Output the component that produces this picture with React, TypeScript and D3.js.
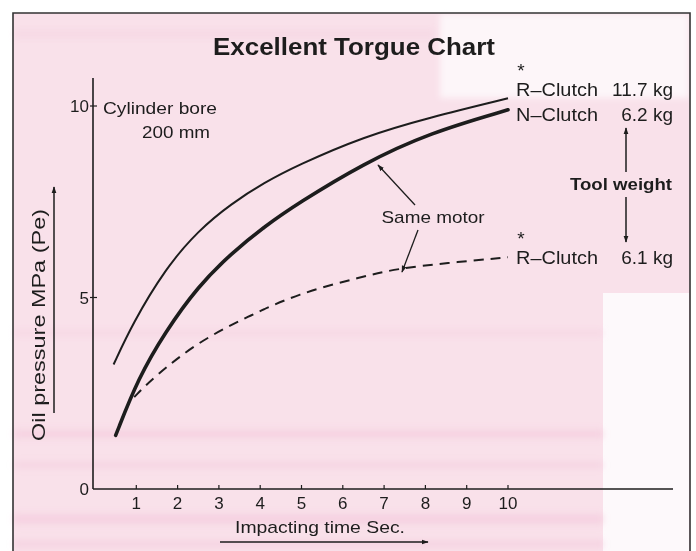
import React from 'react';
import * as d3 from 'd3';

// x = impacting time (sec), y = oil pressure (MPa)
const rClutch117 = [
  [0.45, 3.25], [0.9, 4.3], [1.7, 5.75], [2.5, 6.75], [3.3, 7.45],
  [4.1, 8.0], [4.9, 8.45], [6.5, 9.2], [8.1, 9.7], [10, 10.2],
];
const nClutch62 = [
  [0.5, 1.4], [1.05, 2.9], [1.7, 4.1], [2.5, 5.3], [3.3, 6.15],
  [4.1, 6.85], [4.9, 7.45], [6.5, 8.5], [8.1, 9.3], [10, 9.9],
];
const rClutch61 = [
  [0.95, 2.4], [1.4, 2.9], [2.5, 3.85], [3.7, 4.5], [4.9, 5.1],
  [6.5, 5.55], [7.3, 5.75], [8.5, 5.9], [10, 6.05],
];
const xTicks = [1, 2, 3, 4, 5, 6, 7, 8, 9, 10];
const yTicks = [0, 5, 10];

const FONT = "'Liberation Sans', Arial, sans-serif";
const INK = '#1d1d1d';

export default function App() {
  const width = 696;
  const height = 551;

  const x = d3.scaleLinear().domain([0, 10]).range([95, 508]);
  const y = d3.scaleLinear().domain([0, 10]).range([489, 106]);

  const line = d3.line<number[]>()
    .x(d => x(d[0]))
    .y(d => y(d[1]))
    .curve(d3.curveBasis);

  return (
    <svg width={width} height={height} style={{ position: 'absolute', left: 0, top: 0 }}
      fontFamily={FONT}>
      <defs>
        <marker id="arr" viewBox="0 0 10 10" refX="9" refY="5" markerWidth="7" markerHeight="8"
          orient="auto-start-reverse" markerUnits="userSpaceOnUse">
          <path d="M0,1.5 L10,5 L0,8.5 z" fill={INK} />
        </marker>
        <filter id="soft" x="-5%" y="-200%" width="110%" height="500%">
          <feGaussianBlur stdDeviation="3" />
        </filter>
      </defs>

      {/* paper background */}
      <rect x={0} y={0} width={width} height={height} fill="#ffffff" />
      <rect x={13} y={13} width={677} height={540} fill="#f9e1ea" />
      <rect x={440} y={14} width={249} height={84} fill="#fdf6f9" filter="url(#soft)" />
      <rect x={603} y={293} width={86} height={260} fill="#fdf9fb" />
      <g filter="url(#soft)" fill="#f3c8dc">
        <rect x={14} y={430} width={589} height={8} opacity={0.6} />
        <rect x={14} y={462} width={589} height={6} opacity={0.5} />
        <rect x={14} y={514} width={589} height={10} opacity={0.6} />
        <rect x={14} y={540} width={589} height={8} opacity={0.5} />
        <rect x={14} y={330} width={589} height={6} opacity={0.35} />
        <rect x={14} y={30} width={420} height={8} opacity={0.3} />
      </g>

      {/* frame */}
      <path d="M13,560 L13,13 L690,13 L690,560" fill="none" stroke="#333" strokeWidth={1.6} />

      {/* title */}
      <text x={354} y={55} textAnchor="middle" fontSize={24} fontWeight="bold" fill={INK}
        textLength={282} lengthAdjust="spacingAndGlyphs">Excellent Torgue Chart</text>

      {/* axes */}
      <line x1={93} y1={78} x2={93} y2={489} stroke={INK} strokeWidth={1.6} />
      <line x1={93} y1={489} x2={673} y2={489} stroke={INK} strokeWidth={1.4} />
      {yTicks.filter(t => t > 0).map(t => (
        <line key={t} x1={90} x2={97} y1={y(t)} y2={y(t)} stroke={INK} strokeWidth={1.2} />
      ))}
      {yTicks.map(t => (
        <text key={t} x={89} y={y(t) + 6} textAnchor="end" fontSize={17} fill={INK}>{t}</text>
      ))}
      {xTicks.map(t => (
        <g key={t}>
          <line x1={x(t)} x2={x(t)} y1={485} y2={489} stroke={INK} strokeWidth={1.2} />
          <text x={x(t)} y={509} textAnchor="middle" fontSize={17} fill={INK}>{t}</text>
        </g>
      ))}

      {/* axis titles */}
      <text x={320} y={533} textAnchor="middle" fontSize={17} fill={INK}
        textLength={170} lengthAdjust="spacingAndGlyphs">Impacting time Sec.</text>
      <line x1={220} y1={542} x2={428} y2={542} stroke={INK} strokeWidth={1.3} markerEnd="url(#arr)" />
      <text transform="translate(45,325) rotate(-90)" textAnchor="middle" fontSize={18} fill={INK}
        textLength={232} lengthAdjust="spacingAndGlyphs">Oil pressure MPa (Pe)</text>
      <line x1={54} y1={413} x2={54} y2={187} stroke={INK} strokeWidth={1.5} markerEnd="url(#arr)" />

      {/* cylinder note */}
      <text x={103} y={114} fontSize={17} fill={INK}
        textLength={114} lengthAdjust="spacingAndGlyphs">Cylinder bore</text>
      <text x={142} y={138} fontSize={17} fill={INK}
        textLength={68} lengthAdjust="spacingAndGlyphs">200 mm</text>

      {/* curves */}
      <path d={line(rClutch117) || ''} fill="none" stroke={INK} strokeWidth={2} />
      <path d={line(nClutch62) || ''} fill="none" stroke={INK} strokeWidth={3.6} strokeLinecap="round" />
      <path d={line(rClutch61) || ''} fill="none" stroke={INK} strokeWidth={2} strokeDasharray="10,7" />

      {/* same motor annotation */}
      <text x={433} y={223} textAnchor="middle" fontSize={17} fill={INK}
        textLength={103} lengthAdjust="spacingAndGlyphs">Same motor</text>
      <line x1={415} y1={205} x2={378} y2={165} stroke={INK} strokeWidth={1.3} markerEnd="url(#arr)" />
      <line x1={418} y1={230} x2={402} y2={272} stroke={INK} strokeWidth={1.3} markerEnd="url(#arr)" />

      {/* right-hand labels */}
      <text x={521} y={77} textAnchor="middle" fontSize={19} fill={INK}>*</text>
      <text x={516} y={96} fontSize={19} fill={INK} textLength={82} lengthAdjust="spacingAndGlyphs">R–Clutch</text>
      <text x={673} y={96} textAnchor="end" fontSize={19} fill={INK}>11.7 kg</text>
      <text x={516} y={121} fontSize={19} fill={INK} textLength={82} lengthAdjust="spacingAndGlyphs">N–Clutch</text>
      <text x={673} y={121} textAnchor="end" fontSize={19} fill={INK}>6.2 kg</text>

      <line x1={626} y1={172} x2={626} y2={128} stroke={INK} strokeWidth={1.5} markerEnd="url(#arr)" />
      <text x={621} y={190} textAnchor="middle" fontSize={16} fontWeight="bold" fill={INK}
        textLength={102} lengthAdjust="spacingAndGlyphs">Tool weight</text>
      <line x1={626} y1={197} x2={626} y2={242} stroke={INK} strokeWidth={1.5} markerEnd="url(#arr)" />

      <text x={521} y={245} textAnchor="middle" fontSize={19} fill={INK}>*</text>
      <text x={516} y={264} fontSize={19} fill={INK} textLength={82} lengthAdjust="spacingAndGlyphs">R–Clutch</text>
      <text x={673} y={264} textAnchor="end" fontSize={19} fill={INK}>6.1 kg</text>
    </svg>
  );
}
